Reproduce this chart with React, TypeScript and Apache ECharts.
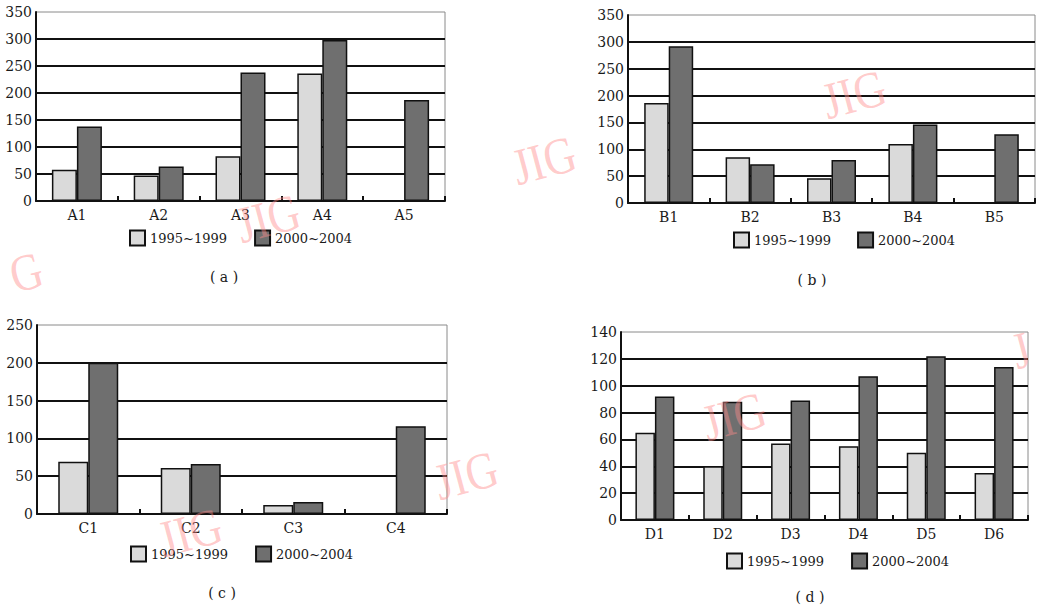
import React, { useEffect, useRef } from "react";
import * as echarts from "echarts";

const catsA = ["A1", "A2", "A3", "A4", "A5"];
const a1995 = [58, 47, 83, 236, null];
const a2000 = [138, 64, 238, 298, 187];

const catsB = ["B1", "B2", "B3", "B4", "B5"];
const b1995 = [186, 85, 46, 110, null];
const b2000 = [292, 72, 80, 146, 128];

const catsC = ["C1", "C2", "C3", "C4"];
const c1995 = [69, 61, 12, null];
const c2000 = [200, 66, 16, 116];

const catsD = ["D1", "D2", "D3", "D4", "D5", "D6"];
const d1995 = [65, 40, 57, 55, 50, 35];
const d2000 = [92, 88, 89, 107, 122, 114];

const seriesNames = ["1995~1999", "2000~2004"];
const captions = ["( a )", "( b )", "( c )", "( d )"];
const yMax = [350, 350, 250, 140];
const yStep = [50, 50, 50, 20];
const watermarkTexts = ["JIG", "G", "JIG", "JIG", "JIG", "JIG", "JIG", "J"];

const FONT = "DejaVu Serif";
const LIGHT = "#dadada";
const DARK = "#6f6f6f";

export default function App() {
  const ref = useRef<HTMLDivElement>(null);
  useEffect(() => {
    if (!ref.current) return;
    const chart = echarts.init(ref.current, undefined, { renderer: "svg" });

    const grids = [
      { left: 36, top: 12, width: 409, height: 189 },
      { left: 628, top: 15, width: 407, height: 188 },
      { left: 37, top: 325, width: 410, height: 189 },
      { left: 621, top: 332, width: 407, height: 188 },
    ];
    const cats = [catsA, catsB, catsC, catsD];
    const light = [a1995, b1995, c1995, d1995];
    const dark = [a2000, b2000, c2000, d2000];
    const barW = [25, 24.5, 30, 19.5];
    const legendPos = [
      { left: 129, top: 229.5, itemGap: 27 },
      { left: 733, top: 231.5, itemGap: 26 },
      { left: 130, top: 545.5, itemGap: 27 },
      { left: 726, top: 552.5, itemGap: 27 },
    ];
    const captionPos = [
      [224, 277],
      [812, 280],
      [222, 593],
      [810, 597],
    ];
    const marks = [
      [268, 218],
      [26, 272],
      [854, 94],
      [544, 160],
      [190, 532],
      [466, 475],
      [734, 416],
      [1021, 350],
    ];

    const series: any[] = [];
    for (let i = 0; i < 4; i++) {
      series.push({
        type: "bar",
        name: seriesNames[0],
        xAxisIndex: i,
        yAxisIndex: i,
        data: light[i],
        barWidth: barW[i],
        barGap: "0%",
        itemStyle: { color: LIGHT, borderColor: "#111", borderWidth: 1.5 },
      });
      series.push({
        type: "bar",
        name: seriesNames[1],
        xAxisIndex: i,
        yAxisIndex: i,
        data: dark[i],
        barWidth: barW[i],
        barGap: "0%",
        itemStyle: { color: DARK, borderColor: "#111", borderWidth: 1.5 },
      });
    }

    const option: any = {
      animation: false,
      backgroundColor: "#ffffff",
      textStyle: { fontFamily: FONT },
      grid: grids.map((g) => ({
        ...g,
        show: true,
        borderColor: "#8a8a8a",
        borderWidth: 1,
        backgroundColor: "transparent",
        containLabel: false,
      })),
      xAxis: cats.map((c, i) => ({
        type: "category",
        gridIndex: i,
        data: c,
        boundaryGap: true,
        axisLine: { show: true, lineStyle: { color: "#111", width: 2 } },
        axisTick: {
          show: true,
          inside: true,
          length: 5,
          lineStyle: { color: "#111", width: 2 },
        },
        axisLabel: {
          color: "#1a1a1a",
          fontFamily: FONT,
          fontSize: 14,
          margin: 7,
        },
        splitLine: { show: false },
      })),
      yAxis: cats.map((_, i) => ({
        type: "value",
        gridIndex: i,
        min: 0,
        max: yMax[i],
        interval: yStep[i],
        axisLine: { show: true, lineStyle: { color: "#111", width: 2 } },
        axisTick: { show: false },
        axisLabel: {
          color: "#1a1a1a",
          fontFamily: FONT,
          fontSize: 14,
          margin: 4,
        },
        splitLine: {
          show: true,
          showMinLine: false,
          showMaxLine: false,
          lineStyle: { color: "#111", width: 2 },
        },
      })),
      legend: legendPos.map((p) => ({
        left: p.left,
        top: p.top,
        itemGap: p.itemGap,
        itemWidth: 15,
        itemHeight: 15,
        padding: 0,
        icon: "rect",
        data: seriesNames,
        selectedMode: false,
        textStyle: { fontFamily: FONT, fontSize: 13, color: "#1a1a1a" },
      })),
      series,
      graphic: [
        ...captions.map((t, i) => ({
          type: "text",
          x: captionPos[i][0],
          y: captionPos[i][1],
          style: {
            text: t,
            font: `14px "${FONT}"`,
            fill: "#1a1a1a",
            align: "center",
            verticalAlign: "middle",
          },
        })),
        ...marks.map((m, i) => ({
          type: "text",
          x: m[0],
          y: m[1],
          rotation: 0.26,
          scaleX: 0.85,
          z: 100,
          style: {
            text: watermarkTexts[i],
            font: '52px "Liberation Serif"',
            fill: "rgba(255, 140, 140, 0.45)",
            align: "center",
            verticalAlign: "middle",
          },
        })),
      ],
    };
    chart.setOption(option);
    return () => chart.dispose();
  }, []);
  return (
    <div
      ref={ref}
      style={{ position: "fixed", left: 0, top: 0, width: 1040, height: 606 }}
    />
  );
}
